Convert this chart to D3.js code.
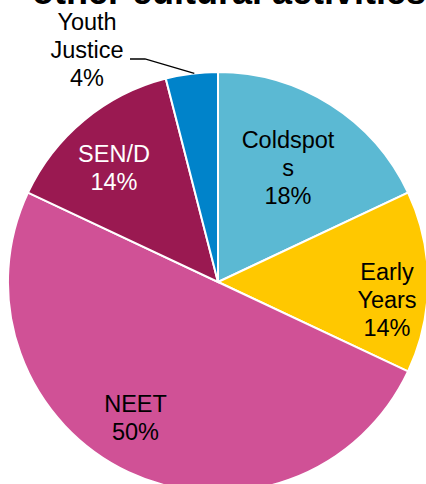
<!DOCTYPE html>
<html>
<head>
<meta charset="utf-8">
<script src="https://cdn.jsdelivr.net/npm/d3@7"></script>
<style>
  html, body { margin: 0; padding: 0; background: #fff; }
  svg { display: block; font-family: "Liberation Sans", Arial, sans-serif; }
</style>
</head>
<body>
<svg id="chart" width="426" height="484"></svg>
<script>
// Share of projects by target group
const categories = ["Coldspots", "Early Years", "NEET", "SEN/D", "Youth Justice"];
const shares = [18, 14, 50, 14, 4];
const labelLines = [["Coldspot", "s", "18%"], ["Early", "Years", "14%"], ["NEET", "50%"], ["SEN/D", "14%"], ["Youth", "Justice", "4%"]];
const colours = ["#5BB9D3", "#FFC800", "#D05196", "#9A1951", "#0083CA"];
const labelColours = ["#000", "#000", "#000", "#fff", "#000"];

const svg = d3.select("#chart");
const cx = 218, cy = 282, radius = 210;

// Title, partly clipped at the top edge
svg.append("text")
  .attr("x", 32).attr("y", 4)
  .attr("font-size", 36).attr("font-weight", "bold")
  .attr("fill", "#000")
  .text("other cultural activities");

const pie = d3.pie().sort(null).value(d => d)(shares);
const arc = d3.arc().innerRadius(0).outerRadius(radius);

const g = svg.append("g").attr("transform", `translate(${cx},${cy})`);

g.selectAll("path.slice")
  .data(pie)
  .join("path")
  .attr("class", "slice")
  .attr("d", arc)
  .attr("fill", (d, i) => colours[i])
  .attr("stroke", "#fff")
  .attr("stroke-width", 2);

// Label placement: centre x and first baseline, relative to the pie centre
const labelAnchor = [[70, -134], [169, -2], [-82.5, 130], [-104, -120], [-131, -252]];
const lineHeight = 28;

pie.forEach((d, i) => {
  const [x, y] = labelAnchor[i];
  const t = g.append("text")
    .attr("text-anchor", "middle")
    .attr("font-size", 23.5)
    .attr("fill", labelColours[i]);
  labelLines[i].forEach((s, k) => {
    t.append("tspan").attr("x", x).attr("y", y + k * lineHeight).text(s);
  });
});

// Leader line from the outside label to the small slice
const yj = pie[4];
const yjAngle = yj.startAngle + (yj.endAngle - yj.startAngle) * 0.55;
const edge = [Math.sin(yjAngle) * radius, -Math.cos(yjAngle) * radius];
g.append("polyline")
  .attr("points", [[130 - cx, 59 - cy], [145 - cx, 59 - cy], edge].map(p => p.join(",")).join(" "))
  .attr("fill", "none")
  .attr("stroke", "#000")
  .attr("stroke-width", 1.3);
</script>
</body>
</html>
